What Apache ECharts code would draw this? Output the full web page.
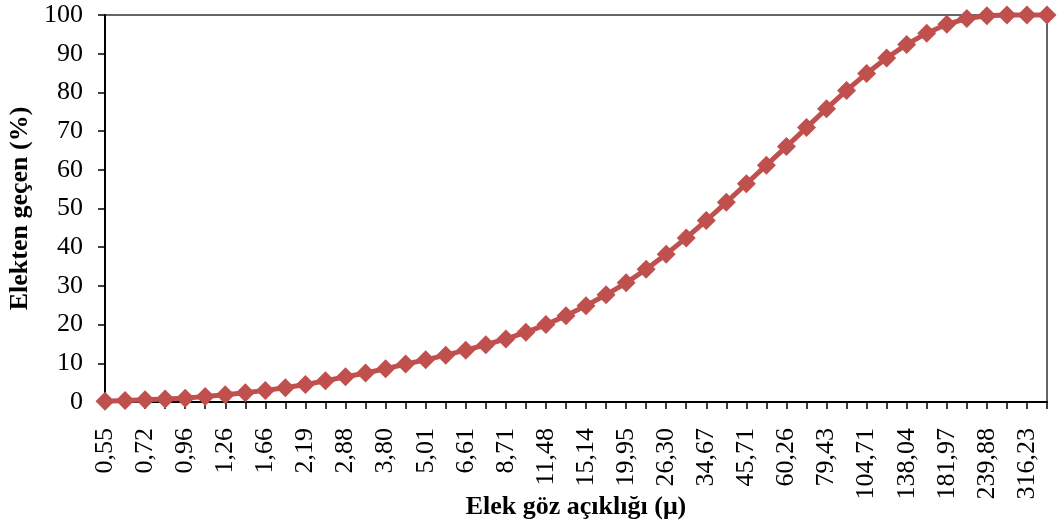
<!DOCTYPE html>
<html>
<head>
	<meta charset="utf-8">
	<title></title>
	<script src="https://cdn.jsdelivr.net/npm/echarts@6/dist/echarts.min.js"></script>
</head>
<body style="margin:0">
	<div id="main" style="width: 1058px; height: 531px;"></div>
	<script>
		// elek göz açıklıkları (mikron)
		var sizes = ['0,55', '0,63', '0,72', '0,83', '0,96', '1,10', '1,26', '1,45', '1,66', '1,91',
			'2,19', '2,51', '2,88', '3,31', '3,80', '4,37', '5,01', '5,75', '6,61', '7,59',
			'8,71', '10,00', '11,48', '13,18', '15,14', '17,38', '19,95', '22,91', '26,30', '30,20',
			'34,67', '39,81', '45,71', '52,48', '60,26', '69,18', '79,43', '91,20', '104,71', '120,23',
			'138,04', '158,49', '181,97', '208,93', '239,88', '275,42', '316,23', '363,08']

		// elekten geçen (%)
		var passing = [0.2, 0.4, 0.6, 0.8, 1.0, 1.4, 1.9, 2.4, 3.0, 3.7,
			4.5, 5.5, 6.5, 7.5, 8.6, 9.8, 10.9, 12.1, 13.4, 14.8,
			16.3, 18.0, 20.0, 22.3, 24.9, 27.7, 30.8, 34.3, 38.2, 42.4,
			46.9, 51.6, 56.4, 61.2, 66.0, 70.9, 75.8, 80.5, 84.9, 88.9,
			92.4, 95.3, 97.6, 99.1, 99.8, 100, 100, 100]

		var yTicks = [0, 10, 20, 30, 40, 50, 60, 70, 80, 90, 100]

		var font = 'Liberation Serif, Times New Roman, serif'

		var chart = echarts.init(document.getElementById('main'))

		var opt = {
			animation: false,
			grid: {
				left: 105, right: 11, top: 15, bottom: 129,
				outerBoundsMode: 'none',
				containLabel: false,
				show: true,
				borderColor: '#333',
				borderWidth: 1.5,
				backgroundColor: 'transparent'
			},
			xAxis: {
				type: 'category',
				data: sizes,
				boundaryGap: false,
				name: 'Elek göz açıklığı (μ)',
				nameLocation: 'middle',
				nameGap: 92,
				nameMoveOverlap: false,
				nameTextStyle: { fontFamily: font, fontSize: 26, fontWeight: 'bold', color: '#000' },
				axisLine: { lineStyle: { color: '#000', width: 2 } },
				axisTick: { show: true, interval: 0, length: 7, lineStyle: { color: '#000', width: 1.5 } },
				axisLabel: {
					interval: 1,
					rotate: 90,
					margin: 26,
					fontFamily: font,
					fontSize: 26,
					color: '#000'
				},
				splitLine: { show: false }
			},
			yAxis: {
				type: 'value',
				min: yTicks[0],
				max: yTicks[yTicks.length - 1],
				interval: 10,
				name: 'Elekten geçen (%)',
				nameLocation: 'middle',
				nameGap: 72,
				nameMoveOverlap: false,
				nameTextStyle: { fontFamily: font, fontSize: 26, fontWeight: 'bold', color: '#000' },
				axisLine: { show: true, lineStyle: { color: '#000', width: 2 } },
				axisTick: { show: true, length: 7, lineStyle: { color: '#000', width: 1.5 } },
				axisLabel: { margin: 22, fontFamily: font, fontSize: 26, color: '#000' },
				splitLine: { show: false }
			},
			series: [
				{
					type: 'line',
					data: passing,
					symbol: 'diamond',
					symbolSize: 19,
					showAllSymbol: true,
					lineStyle: { color: '#C0504D', width: 5 },
					itemStyle: { color: '#C0504D' },
					clip: false
				}
			]
		}

		chart.setOption(opt)
	</script>
</body>
</html>
